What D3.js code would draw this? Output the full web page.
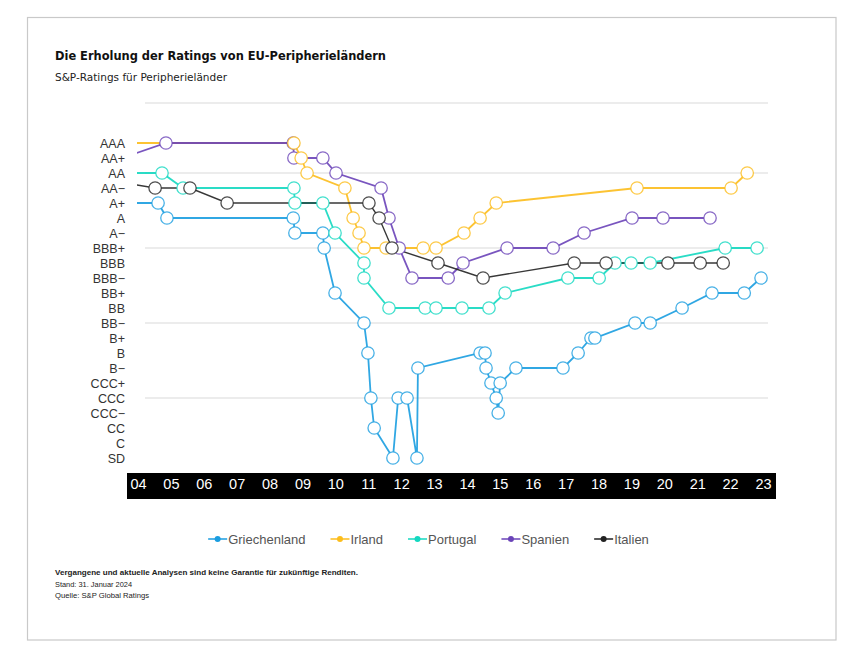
<!DOCTYPE html>
<html>
<head>
<meta charset="utf-8">
<script src="https://cdn.jsdelivr.net/npm/d3@7"></script>
<style>
  body { margin: 0; background: #fff; }
  text { font-family: "Liberation Sans", Arial, sans-serif; }
</style>
</head>
<body>
<svg id="chart"></svg>
<script>
const width = 850
const height = 654

// rating scale, best to worst
const ratings = ["AAA", "AA+", "AA", "AA-", "A+", "A", "A-", "BBB+", "BBB", "BBB-", "BB+", "BB", "BB-",
  "B+", "B", "B-", "CCC+", "CCC", "CCC-", "CC", "C", "SD"]
const gridRatings = ["AA", "BBB+", "BB-", "CCC"]
const years = d3.range(2004, 2024)
const yearLabels = ["04", "05", "06", "07", "08", "09", "10", "11", "12", "13", "14", "15", "16", "17", "18", "19", "20", "21", "22", "23"]

const countries = ["Griechenland", "Irland", "Portugal", "Spanien", "Italien"]

// [decimal year, rating]
const griechenland = [
  [2004.0, "A+"], [2005.11, "A+"], [2005.38, "A"], [2009.22, "A"], [2009.27, "A-"], [2010.12, "A-"],
  [2010.16, "BBB+"], [2010.49, "BB+"], [2011.37, "BB-"], [2011.49, "B"], [2011.58, "CCC"], [2011.68, "CC"],
  [2012.25, "SD"], [2012.41, "CCC"], [2012.68, "CCC"], [2012.98, "SD"], [2013.01, "B-"], [2014.90, "B"],
  [2015.05, "B"], [2015.08, "B-"], [2015.23, "CCC+"], [2015.39, "CCC"], [2015.45, "CCC-"], [2015.51, "CCC+"],
  [2015.99, "B-"], [2017.42, "B-"], [2017.88, "B"], [2018.27, "B+"], [2018.39, "B+"], [2019.61, "BB-"],
  [2020.07, "BB-"], [2021.04, "BB"], [2021.95, "BB+"], [2022.93, "BB+"], [2023.44, "BBB-"]
]
const irland = [
  [2003.5, "AAA"], [2009.24, "AAA"], [2009.46, "AA+"], [2009.64, "AA"], [2010.79, "AA-"], [2011.04, "A"],
  [2011.22, "A-"], [2011.37, "BBB+"], [2012.04, "BBB+"], [2013.17, "BBB+"], [2013.56, "BBB+"], [2014.41, "A-"],
  [2014.90, "A"], [2015.39, "A+"], [2019.67, "AA-"], [2022.53, "AA-"], [2023.02, "AA"]
]
const portugal = [
  [2004.0, "AA"], [2005.23, "AA"], [2005.87, "AA-"], [2009.24, "AA-"], [2009.27, "A+"], [2010.12, "A+"],
  [2010.49, "A-"], [2011.37, "BBB"], [2011.37, "BBB-"], [2012.13, "BB"], [2013.23, "BB"], [2013.56, "BB"],
  [2014.35, "BB"], [2015.17, "BB"], [2015.66, "BB+"], [2017.57, "BBB-"], [2018.52, "BBB-"], [2019.00, "BBB"],
  [2019.49, "BBB"], [2020.07, "BBB"], [2022.35, "BBB+"], [2023.32, "BBB+"]
]
const spanien = [
  [2004.01, "AA+"], [2005.35, "AAA"], [2009.22, "AAA"], [2009.24, "AA+"], [2010.12, "AA+"], [2010.52, "AA"],
  [2011.89, "AA-"], [2012.13, "A"], [2012.44, "BBB+"], [2012.83, "BBB-"], [2013.93, "BBB-"], [2014.38, "BBB"],
  [2015.72, "BBB+"], [2017.12, "BBB+"], [2018.06, "A-"], [2019.52, "A"], [2020.46, "A"], [2021.89, "A"]
]
const italien = [
  [2002.3, "AA"], [2005.02, "AA-"], [2006.08, "AA-"], [2007.21, "A+"], [2011.52, "A+"], [2011.83, "A"],
  [2012.22, "BBB+"], [2013.62, "BBB"], [2014.99, "BBB-"], [2017.76, "BBB"], [2018.73, "BBB"], [2020.61, "BBB"],
  [2021.59, "BBB"], [2022.29, "BBB"]
]

const seriesData = {
  Griechenland: griechenland,
  Irland: irland,
  Portugal: portugal,
  Spanien: spanien,
  Italien: italien
}
const colors = {
  Griechenland: "#1a9de0",
  Irland: "#fcbd1c",
  Portugal: "#13d8c0",
  Spanien: "#6a43b8",
  Italien: "#222222"
}
const lineOrder = ["Griechenland", "Irland", "Portugal", "Spanien", "Italien"]
const markerOrder = ["Spanien", "Griechenland", "Portugal", "Irland", "Italien"]

const minus = (s) => s.replace("-", "\u2212")

const svg = d3.select("#chart").attr("width", width).attr("height", height)

// frame
svg.append("rect")
  .attr("x", 27.5).attr("y", 17.5)
  .attr("width", 808.5).attr("height", 622.5)
  .attr("fill", "#fff").attr("stroke", "#c9c9c9").attr("stroke-width", 1.2)

// title
svg.append("text")
  .attr("x", 55).attr("y", 59.5)
  .attr("textLength", 331).attr("lengthAdjust", "spacingAndGlyphs")
  .style("font-family", "'DejaVu Sans Condensed', 'Liberation Sans Narrow', sans-serif")
  .style("font-weight", "bold").style("font-size", "13px").attr("fill", "#111")
  .text("Die Erholung der Ratings von EU-Peripherieländern")

svg.append("text")
  .attr("x", 55).attr("y", 80.5)
  .attr("textLength", 172).attr("lengthAdjust", "spacingAndGlyphs")
  .style("font-family", "'DejaVu Sans Condensed', sans-serif")
  .style("font-size", "10.5px").attr("fill", "#222")
  .text("S&P-Ratings für Peripherieländer")

const x = d3.scaleLinear().domain([2004.5, 2023.5]).range([138, 763])
const y = d3.scaleLinear().domain([0, ratings.length - 1]).range([143, 458])
const yr = (r) => y(ratings.indexOf(r))

const plotTop = 103
const gridLeft = 145
const gridRight = 768

// grid
const grid = svg.append("g").attr("stroke", "#e6e6e6").attr("stroke-width", 1.3)
grid.append("line")
  .attr("x1", gridLeft).attr("x2", gridRight)
  .attr("y1", plotTop).attr("y2", plotTop)
grid.selectAll("line.g")
  .data(gridRatings)
  .join("line")
  .attr("class", "g")
  .attr("x1", gridLeft).attr("x2", gridRight)
  .attr("y1", (d) => yr(d)).attr("y2", (d) => yr(d))

// y axis labels
const yAxis = d3.axisLeft(y)
  .tickValues(d3.range(ratings.length))
  .tickFormat((i) => minus(ratings[i]))
  .tickSize(0)
  .tickPadding(0)
const yg = svg.append("g").attr("transform", "translate(125,0)").call(yAxis)
yg.select(".domain").remove()
yg.selectAll("text")
  .style("font-family", "'Liberation Sans', Arial, sans-serif")
  .style("font-size", "12.5px")
  .attr("fill", "#333")

// x axis band
svg.append("rect")
  .attr("x", 127).attr("y", 473)
  .attr("width", 649).attr("height", 26)
  .attr("fill", "#000")

const xAxis = d3.axisBottom(x)
  .tickValues(years.map((d) => d + 0.5))
  .tickFormat((d, i) => yearLabels[i])
  .tickSize(0)
  .tickPadding(0)
const xg = svg.append("g").attr("transform", "translate(0,479)").call(xAxis)
xg.select(".domain").remove()
xg.selectAll("text")
  .style("font-family", "'Liberation Sans', Arial, sans-serif")
  .style("font-size", "14.5px")
  .attr("fill", "#fff")

// lines
svg.append("clipPath").attr("id", "plotClip")
  .append("rect").attr("x", 137).attr("y", 0).attr("width", 700).attr("height", 470)

const line = d3.line()
  .x((d) => x(d[0]))
  .y((d) => yr(d[1]))

const lineLayer = svg.append("g").attr("clip-path", "url(#plotClip)")
lineOrder.forEach((name) => {
  lineLayer.append("path")
    .datum(seriesData[name])
    .attr("fill", "none")
    .attr("stroke", colors[name])
    .attr("stroke-opacity", 0.9)
    .attr("stroke-width", name === "Italien" ? 1.4 : 1.8)
    .attr("d", line)
})

const markerLayer = svg.append("g")
markerOrder.forEach((name) => {
  markerLayer.append("g")
    .selectAll("circle")
    .data(seriesData[name].filter((d) => x(d[0]) > 140))
    .join("circle")
    .attr("cx", (d) => x(d[0]))
    .attr("cy", (d) => yr(d[1]))
    .attr("r", 6.2)
    .attr("fill", "#fff")
    .attr("stroke", colors[name])
    .attr("stroke-opacity", 0.8)
    .attr("stroke-width", 1.3)
})

// legend
const legend = svg.append("g").attr("transform", "translate(0,539)")
const items = legend.selectAll("g")
  .data(countries)
  .join("g")
items.append("line")
  .attr("x1", 0).attr("x2", 19)
  .attr("stroke", (d) => colors[d]).attr("stroke-width", 1.5)
items.append("circle")
  .attr("cx", 9.5).attr("r", 3)
  .attr("fill", (d) => colors[d])
items.append("text")
  .attr("x", 20).attr("dy", "0.35em")
  .style("font-size", "13px").attr("fill", "#555")
  .text((d) => d)

let widths = []
items.each(function () {
  widths.push(20 + d3.select(this).select("text").node().getComputedTextLength())
})
const gap = 25
const total = d3.sum(widths) + gap * (widths.length - 1)
let cursor = 428.5 - total / 2
items.attr("transform", (d, i) => {
  const t = `translate(${cursor},0)`
  cursor += widths[i] + gap
  return t
})

// footer
const foot = svg.append("g").style("font-size", "7.6px").attr("fill", "#222")
foot.append("text").attr("x", 55).attr("y", 575)
  .style("font-weight", "bold")
  .attr("textLength", 303).attr("lengthAdjust", "spacingAndGlyphs")
  .text("Vergangene und aktuelle Analysen sind keine Garantie für zukünftige Renditen.")
foot.append("text").attr("x", 55).attr("y", 586.5)
  .attr("textLength", 77).attr("lengthAdjust", "spacingAndGlyphs")
  .text("Stand: 31. Januar 2024")
foot.append("text").attr("x", 55).attr("y", 597.5)
  .attr("textLength", 94).attr("lengthAdjust", "spacingAndGlyphs")
  .text("Quelle: S&P Global Ratings")
</script>
</body>
</html>
